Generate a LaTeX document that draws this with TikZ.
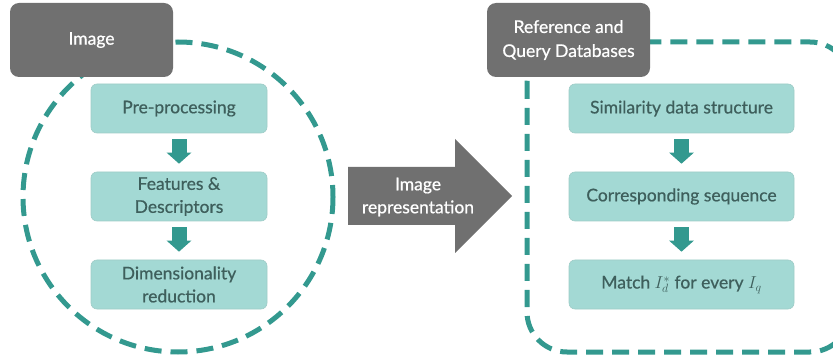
\documentclass[tikz,border=0pt]{standalone}
\usepackage{fontspec}
\setmainfont{Lato}
\newfontfamily\labelfont{Lato}[FakeBold=0.6]
\usetikzlibrary{arrows.meta}
\definecolor{dashteal}{HTML}{33998F}
\definecolor{stepfill}{HTML}{A3D9D4}
\definecolor{steptext}{HTML}{3E5F5C}
\definecolor{headgray}{HTML}{707070}
\tikzset{
  dashline/.style={draw=dashteal, line width=5pt, dash pattern=on 17pt off 9pt},
  headbox/.style={fill=headgray, rounded corners=9pt, minimum width=163pt, minimum height=74pt,
    text=white, align=center, font=\labelfont\fontsize{17.5}{24}\selectfont, inner sep=0pt},
  stepbox/.style={fill=stepfill, draw=stepfill!85!gray, line width=0.6pt, rounded corners=6pt,
    minimum width=176pt, minimum height=49pt, text=steptext, align=center,
    font=\labelfont\fontsize{17.5}{23}\selectfont, inner sep=0pt},
  downarrow/.style={draw=dashteal, line width=15pt, shorten <=6pt, shorten >=8pt,
    -{Triangle[width=24pt,length=11pt]}},
}
\begin{document}
\begin{tikzpicture}[x=1pt,y=-1pt]
\useasboundingbox (0,0) rectangle (833,358);
\clip (0,0) rectangle (833,358);

% dashed group outlines
\draw[dashline] (178,197) circle[radius=155];
\draw[dashline, rounded corners=40pt] (527,42) rectangle (850,352);

% headers
\node[headbox] (img) at (91.5,40) {Image};
\node[headbox] (db) at (568.5,40) {Reference and\\Query Databases};

% left column
\node[stepbox] (pre) at (179,108.5) {Pre-processing};
\node[stepbox] (feat) at (179,196.5) {Features \&\\Descriptors};
\node[stepbox] (dim) at (179,284.5) {Dimensionality\\reduction};
\draw[downarrow] (pre.south) -- (feat.north);
\draw[downarrow] (feat.south) -- (dim.north);

% right column
\node[stepbox, minimum width=225pt] (sim) at (681.5,108.5) {Similarity data structure};
\node[stepbox, minimum width=225pt] (corr) at (681.5,196.5) {Corresponding sequence};
\node[stepbox, minimum width=225pt] (match) at (681.5,284.5) {Match $I_d^*$ for every $I_q$};
\draw[downarrow] (sim.south) -- (corr.north);
\draw[downarrow] (corr.south) -- (match.north);

% big transition arrow
\fill[headgray] (348,167) -- (455,167) -- (455,139) -- (512,196) -- (455,253)
  -- (455,225) -- (348,225) -- cycle;
\node[text=white, align=center, font=\labelfont\fontsize{17.5}{23}\selectfont] (rep) at (418,197)
  {Image\\representation};
\end{tikzpicture}
\end{document}
